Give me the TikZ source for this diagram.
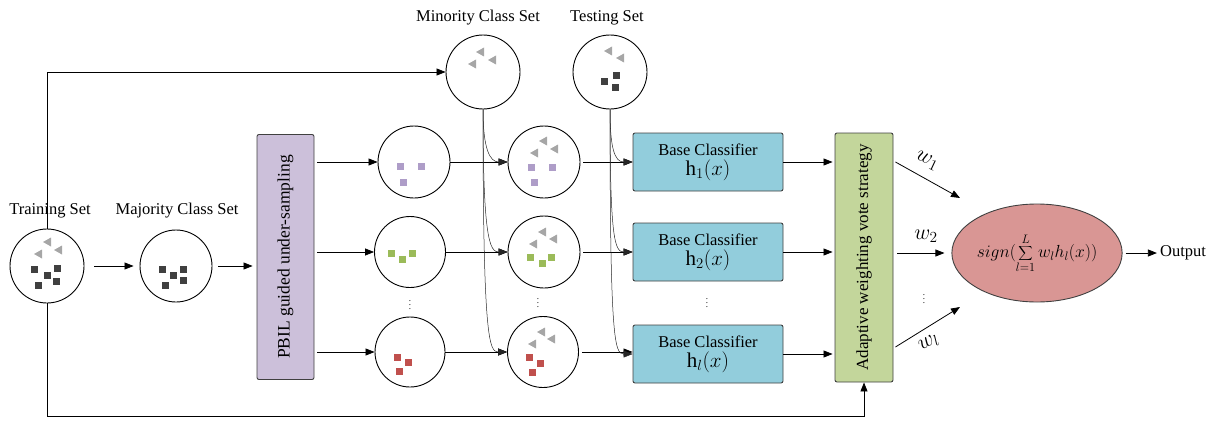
\RequirePackage{fix-cm}
\documentclass[tikz,border=0pt]{standalone}
\usepackage{fontspec}
\setmainfont{Liberation Serif}
\usetikzlibrary{arrows.meta,shapes.geometric,calc}
\definecolor{pbilfill}{HTML}{CCC0DA}
\definecolor{bfill}{HTML}{92CDDC}
\definecolor{afill}{HTML}{C3D69B}
\definecolor{efill}{HTML}{D99694}
\definecolor{darksq}{HTML}{404040}
\definecolor{trig}{HTML}{A6A6A6}
\definecolor{purp}{HTML}{AE9DC8}
\definecolor{grn}{HTML}{9BBB59}
\definecolor{redsq}{HTML}{C0504D}
\definecolor{edge}{HTML}{404040}
\newcommand\mysq[3]{\fill[#1] (#2-3.5,#3-3.5) rectangle (#2+3.5,#3+3.5);}
\newcommand\mytri[2]{\fill[trig] (#1-4,#2) -- (#1+4,#2-4.5) -- (#1+4,#2+4.5) -- cycle;}
\begin{document}
\begin{tikzpicture}[x=1pt,y=-1pt,
  txt/.style={font=\fontsize{16.5}{19}\selectfont, inner sep=0pt},
  setc/.style={draw=black, line width=0.9pt, circle, inner sep=0pt},
  arr/.style={-{Triangle[length=9pt,width=7pt]}, line width=0.8pt},
  carr/.style={-{Triangle[length=9pt,width=7pt]}, line width=0.5pt, draw=black!85},
  bcls/.style={draw=edge, line width=0.9pt, fill=bfill, rounded corners=2pt,
     minimum width=150pt, minimum height=58pt, align=center, inner sep=0pt,
     font=\fontsize{16.5}{19}\selectfont},
  vbox/.style={draw=edge, line width=0.9pt, rounded corners=2pt, inner sep=0pt},
  dots/.style={font=\fontsize{9}{9}\selectfont, inner sep=0pt},
  wlab/.style={font=\fontsize{22}{22}\selectfont, inner sep=0pt}
]
\useasboundingbox (0,0) rectangle (1214,428);

% set circles
\node[setc, minimum size=74pt] (train) at (47,266) {};
\node[setc, minimum size=72pt] (major) at (176,266) {};
\node[setc, minimum size=74pt] (minor) at (483,72) {};
\node[setc, minimum size=74pt] (test) at (610,72) {};
\node[setc, minimum size=72pt] (c11) at (414,162) {};
\node[setc, minimum size=71pt] (c12) at (410,252) {};
\node[setc, minimum size=70pt] (c13) at (410,352) {};
\node[setc, minimum size=72pt] (c21) at (544,162) {};
\node[setc, minimum size=72pt] (c22) at (544,252) {};
\node[setc, minimum size=71pt] (c23) at (543,352) {};

% labels
\node[txt] (ltrain) at (50,211) {Training Set};
\node[txt] (lmajor) at (177,211) {Majority Class Set};
\node[txt] (lminor) at (478,18) {Minority Class Set};
\node[txt] (ltest) at (607,18) {Testing Set};

% PBIL box (rotated: north = page left, south = page right)
\node[vbox, fill=pbilfill, minimum width=245pt, minimum height=57pt, rotate=90,
  font=\fontsize{17.5}{20}\selectfont] (pbil) at (285.5,257) {PBIL guided under-sampling};

% base classifiers
\node[bcls] (b1) at (708,162) {Base Classifier\\[1pt]{\fontsize{21}{22}\selectfont$\mathrm{h}_1(x)$}};
\node[bcls] (b2) at (708,252) {Base Classifier\\[1pt]{\fontsize{21}{22}\selectfont$\mathrm{h}_2(x)$}};
\node[bcls] (b3) at (708,354) {Base Classifier\\[1pt]{\fontsize{21}{22}\selectfont$\mathrm{h}_l(x)$}};

% adaptive box
\node[vbox, fill=afill, minimum width=249pt, minimum height=58pt, rotate=90,
  font=\fontsize{17}{20}\selectfont] (ada) at (864,257.5) {Adaptive weighting vote strategy};

% ellipse
\node[ellipse, draw=edge, line width=0.9pt, fill=efill, minimum width=150pt, minimum height=98pt, inner sep=0pt,
  font=\fontsize{17.5}{20}\selectfont] (ell) at (1037,253) {$\displaystyle sign(\sum_{l=1}^{L} w_l h_l(x))$};
\node[txt] (out) at (1183,253) {Output};

% dots
\node[dots] (d1) at (410,302) {$\vdots$};
\node[dots] (d2) at (538,300) {$\vdots$};
\node[dots] (d3) at (707,300) {$\vdots$};
\node[dots] (d4) at (924,296) {$\vdots$};

% squares and triangles
\mytri{47}{242}\mytri{38}{254}\mytri{58}{250}
\mysq{darksq}{34}{269}\mysq{darksq}{47}{275}\mysq{darksq}{57}{268}\mysq{darksq}{56}{281}\mysq{darksq}{38}{285}
\mysq{darksq}{162}{269}\mysq{darksq}{173}{275}\mysq{darksq}{183}{269}\mysq{darksq}{183}{280}\mysq{darksq}{165}{285}
\mytri{480}{52}\mytri{472}{64}\mytri{492}{60}
\mytri{608}{51}\mytri{620}{58}
\mysq{darksq}{604}{81}\mysq{darksq}{616}{75}\mysq{darksq}{615}{87}
\mysq{purp}{400}{166}\mysq{purp}{421}{166}\mysq{purp}{403}{182}
\mytri{543}{141}\mytri{534}{153}\mytri{554}{149}
\mysq{purp}{531}{167}\mysq{purp}{552}{167}\mysq{purp}{534}{182}
\mysq{grn}{391}{253}\mysq{grn}{402}{259}\mysq{grn}{412}{253}
\mytri{542}{232}\mytri{533}{244}\mytri{553}{239}
\mysq{grn}{530}{257}\mysq{grn}{542}{263}\mysq{grn}{551}{257}
\mysq{redsq}{397}{357}\mysq{redsq}{408}{362}\mysq{redsq}{399}{371}
\mytri{541}{332}\mytri{532}{344}\mytri{551}{339}
\mysq{redsq}{529}{357}\mysq{redsq}{540}{363}\mysq{redsq}{532}{372}

% connectors
\draw[arr, shorten <=10pt, shorten >=6pt] (train.east) -- (major.west);
\draw[arr, shorten <=6pt, shorten >=4pt] (major.east) -- (major.east -| pbil.north);
\draw[arr] (train.north) |- (minor.west);
\coordinate (bl) at (47,416);
\draw[arr] (train.south) -- (bl) -| (ada.west);

\foreach \i in {1,2,3}{
  \draw[arr, shorten <=3pt] (pbil.south |- c1\i) -- (c1\i.west);
  \draw[arr] (c1\i.east) -- (c1\i.east -| c2\i.west);
  \draw[arr, shorten <=3pt] (c2\i.east) -- (c2\i.east -| b\i.west);
  \draw[arr, shorten >=2pt] (b\i.east) -- (b\i.east -| ada.north);
  \draw[carr] (minor.south) .. controls ($(minor.south |- c2\i.west)+(0,-14)$) and ($(c2\i.west)+(-18,0)$) .. (c2\i.west);
  \draw[carr] (test.south) .. controls ($(test.south |- b\i.west)+(0,-14)$) and ($(b\i.west)+(-18,0)$) .. (b\i.west);
}

% weights
\coordinate (w1s) at ($(ada.south |- b1)+(2,0)$);
\coordinate (wls) at ($(ada.south |- b3)+(2,-7)$);
\coordinate (w1e) at (960,198);
\coordinate (wle) at (960,307);
\draw[arr] (w1s) -- (w1e);
\draw[arr, shorten <=4pt, shorten >=7pt] (ada.south |- ell.west) -- (ell.west);
\draw[arr] (wls) -- (wle);
\node[wlab, rotate=-25] (lw1) at (927,161) {$w_1$};
\node[wlab] (lw2) at (926,236) {$w_2$};
\node[wlab, rotate=28] (lwl) at (929,343) {$w_l$};

\draw[arr, shorten <=3pt, shorten >=3pt] (ell.east) -- (out.west);
\end{tikzpicture}
\end{document}
